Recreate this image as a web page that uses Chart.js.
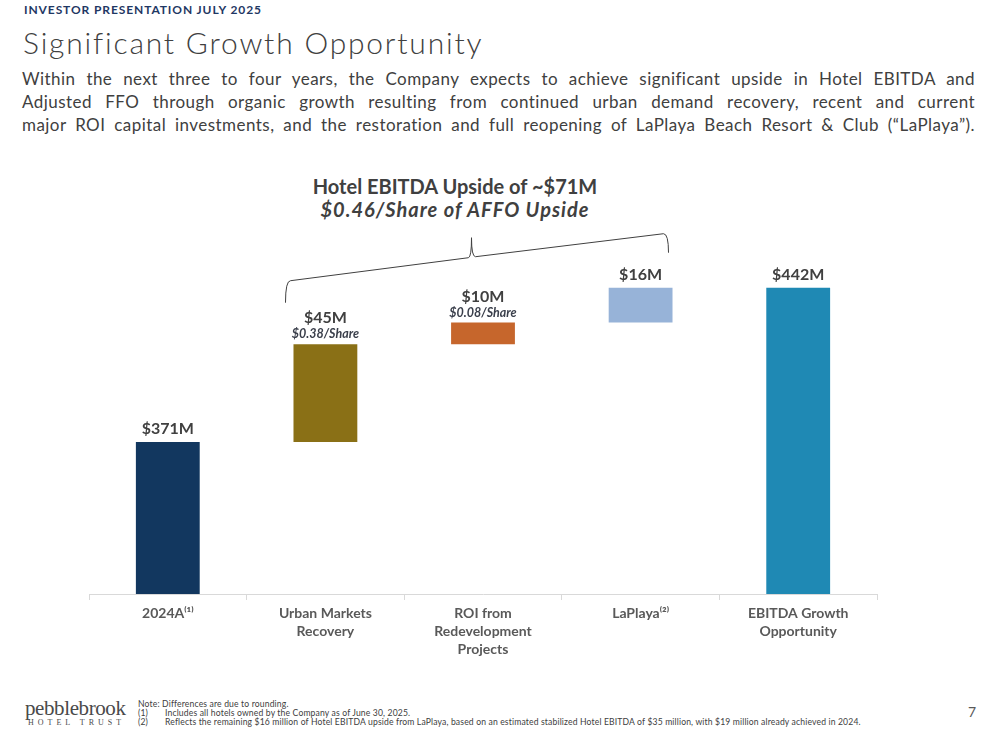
<!DOCTYPE html>
<html>
<head>
<meta charset="utf-8">
<script src="https://cdn.jsdelivr.net/npm/chart.js@4.4.1/dist/chart.umd.min.js"></script>
<style>
  html, body { margin: 0; padding: 0; background: #fff; }
  body { width: 998px; height: 749px; position: relative; overflow: hidden; font-family: Lato, 'Open Sans', sans-serif; color: #404040; }
  .kicker { position: absolute; left: 24px; top: 2px; font-weight: bold; font-size: 12px; letter-spacing: 0.9px; color: #1f3864; }
  .title { position: absolute; left: 23px; top: 24px; font-size: 30px; font-weight: 300; letter-spacing: 1.8px; color: #404040; white-space: nowrap; }
  .intro { position: absolute; left: 22px; top: 67px; width: 953px; font-size: 17px; line-height: 23px; letter-spacing: 0.45px; color: #404040; }
  .intro div { text-align: justify; text-align-last: justify; white-space: nowrap; }
  .headline { position: absolute; left: 255px; width: 400px; top: 175px; text-align: center; font-weight: bold; font-size: 20px; line-height: 23px; color: #404040; }
  .headline i { font-style: italic; letter-spacing: 1px; }
  #wrap { position: absolute; left: 0; top: 140px; width: 998px; height: 530px; }
  .logo { position: absolute; left: 25px; top: 698px; font-family: 'Liberation Serif', 'DejaVu Serif', serif; color: #4a4a4a; }
  .logo .name { font-size: 21px; letter-spacing: -0.4px; line-height: 20px; }
  .logo .sub { font-size: 8px; letter-spacing: 4px; line-height: 10px; margin-left: 3px; }
  .notes { position: absolute; left: 138px; top: 700px; font-size: 8.6px; line-height: 8.8px; letter-spacing: 0.15px; color: #404040; white-space: nowrap; }
  .notes span { display: inline-block; width: 27px; }
  .page { position: absolute; left: 968px; top: 703px; font-size: 14px; color: #595959; }
</style>
</head>
<body>
<div class="kicker">INVESTOR PRESENTATION JULY 2025</div>
<div class="title">Significant Growth Opportunity</div>
<div class="intro">
  <div>Within the next three to four years, the Company expects to achieve significant upside in Hotel EBITDA and</div>
  <div>Adjusted FFO through organic growth resulting from continued urban demand recovery, recent and current</div>
  <div>major ROI capital investments, and the restoration and full reopening of LaPlaya Beach Resort &amp; Club (“LaPlaya”).</div>
</div>
<div class="headline">Hotel EBITDA Upside of ~$71M<br><i>$0.46/Share of AFFO Upside</i></div>
<div id="wrap"><canvas id="chart"></canvas></div>
<div class="logo"><div class="name">pebblebrook</div><div class="sub">HOTEL TRUST</div></div>
<div class="notes">
  Note: Differences are due to rounding.<br>
  <span>(1)</span>Includes all hotels owned by the Company as of June 30, 2025.<br>
  <span>(2)</span>Reflects the remaining $16 million of Hotel EBITDA upside from LaPlaya, based on an estimated stabilized Hotel EBITDA of $35 million, with $19 million already achieved in 2024.
</div>
<div class="page">7</div>
<script>
const categories = [
  ['2024A⁽¹⁾'],
  ['Urban Markets', 'Recovery'],
  ['ROI from', 'Redevelopment', 'Projects'],
  ['LaPlaya⁽²⁾'],
  ['EBITDA Growth', 'Opportunity'],
];
const values = [371, 45, 10, 16, 442];
const isTotal = [true, false, false, false, true];
const perShare = ['', '$0.38/Share', '$0.08/Share', '', ''];
const barColors = ['#12375f', '#8a7016', '#c6662c', '#97b3d8', '#1f89b4'];
const yMin = 301;
const yMax = 510;

// waterfall: totals stand on the floor, steps float on the running sum
let running = 0;
const floating = values.map((v, i) => {
  if (isTotal[i]) {
    running = v;
    return [0, v];
  }
  const seg = [running, running + v];
  running += v;
  return seg;
});

const barLabels = {
  id: 'barLabels',
  afterDatasetsDraw(chart) {
    const ctx = chart.ctx;
    const meta = chart.getDatasetMeta(0);
    ctx.save();
    ctx.textAlign = 'center';
    ctx.textBaseline = 'middle';
    meta.data.forEach((bar, i) => {
      const top = Math.min(bar.y, bar.base);
      ctx.fillStyle = '#404040';
      ctx.font = 'bold 16px Lato, sans-serif';
      if (perShare[i]) {
        ctx.fillText(`$${values[i]}M`, bar.x, top - 26);
        ctx.fillStyle = '#3a3f4b';
        ctx.font = 'italic bold 12.5px Lato, sans-serif';
        ctx.fillText(perShare[i], bar.x, top - 10);
      } else {
        ctx.fillText(`$${values[i]}M`, bar.x, top - 13);
      }
    });
    ctx.restore();
  },
};

// curly bracket over the three upside steps
const upsideBracket = {
  id: 'upsideBracket',
  afterDatasetsDraw(chart) {
    const meta = chart.getDatasetMeta(0);
    const first = meta.data[1];
    const last = meta.data[3];
    const lx = first.x - first.width / 2 - 7;
    const rx = last.x + last.width / 2 - 4;
    const t = Math.min(last.y, last.base);
    const mx = (lx + rx) / 2 - 6;
    const ctx = chart.ctx;
    ctx.save();
    ctx.strokeStyle = '#404040';
    ctx.lineWidth = 1;
    ctx.beginPath();
    ctx.moveTo(lx - 1, t + 15);
    ctx.quadraticCurveTo(lx - 1, t - 7, lx + 4, t - 7);
    ctx.lineTo(mx - 3, t - 30);
    ctx.quadraticCurveTo(mx, t - 31, mx, t - 50);
    ctx.quadraticCurveTo(mx, t - 31, mx + 4, t - 31);
    ctx.lineTo(rx - 5, t - 54);
    ctx.quadraticCurveTo(rx, t - 54, rx, t - 35);
    ctx.stroke();
    ctx.restore();
  },
};

new Chart(document.getElementById('chart'), {
  type: 'bar',
  data: {
    labels: categories,
    datasets: [{
      data: floating,
      backgroundColor: barColors,
      borderWidth: 0,
      borderSkipped: false,
      categoryPercentage: 1,
      barPercentage: 0.405,
    }],
  },
  options: {
    responsive: true,
    maintainAspectRatio: false,
    animation: false,
    layout: { padding: { left: 89, right: 121, top: 0, bottom: 0 } },
    plugins: {
      legend: { display: false },
      tooltip: { enabled: false },
    },
    scales: {
      x: {
        grid: {
          offset: true,
          drawOnChartArea: false,
          drawTicks: true,
          tickLength: 6,
          color: '#d9d9d9',
        },
        border: { display: true, color: '#d9d9d9', width: 1 },
        ticks: {
          color: '#595959',
          font: { family: 'Lato', size: 14, weight: 'bold', lineHeight: 1.3 },
          padding: 4,
          maxRotation: 0,
          autoSkip: false,
        },
        afterFit: (scale) => { scale.height = 76; },
      },
      y: {
        display: false,
        min: yMin,
        max: yMax,
      },
    },
  },
  plugins: [barLabels, upsideBracket],
});
</script>
</body>
</html>
